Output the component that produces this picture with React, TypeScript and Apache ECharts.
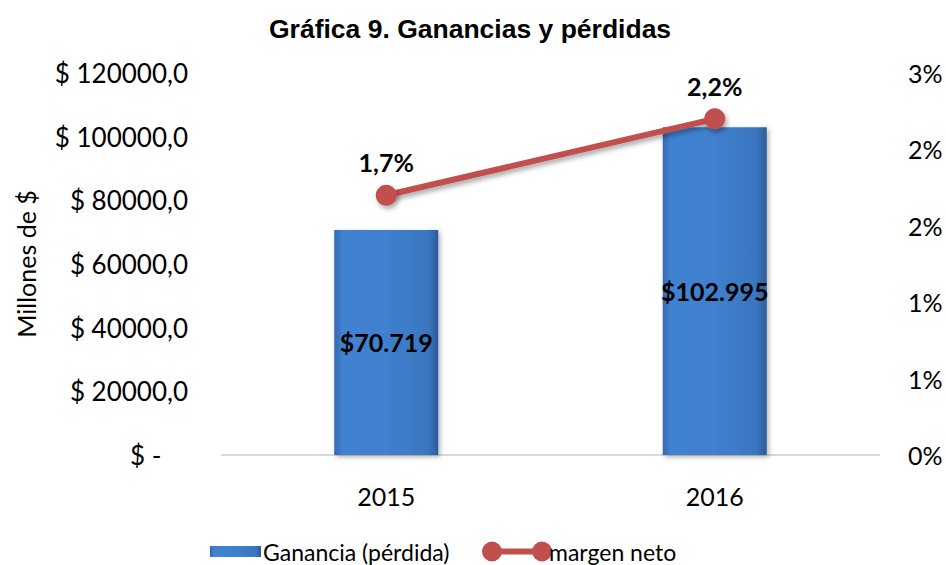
import React, { useEffect, useRef } from "react";
import * as echarts from "echarts";

const categories = ["2015", "2016"];
const ganancia = [70719, 102995];
const margenNeto = [1.7, 2.2];
const leftTicks = { min: 0, max: 120000, interval: 20000 };
const rightTicks = { min: 0, max: 2.5, interval: 0.5 };

const FONT = "Lato";

function fmtThousands(v: number): string {
  const s = Math.round(v).toString();
  return s.replace(/\B(?=(\d{3})+(?!\d))/g, ".");
}

export default function App() {
  const ref = useRef<HTMLDivElement>(null);
  useEffect(() => {
    if (!ref.current) return;
    const chart = echarts.init(ref.current, undefined, { renderer: "svg" });
    const lineIcon =
      "path://M0,10 A10,10 0 1,1 20,10 A10,10 0 1,1 0,10 Z M15,7 L55,7 L55,13 L15,13 Z M50,10 A10,10 0 1,1 70,10 A10,10 0 1,1 50,10 Z";
    chart.setOption({
      animation: false,
      backgroundColor: "#ffffff",
      title: {
        text: "Gráfica 9. Ganancias y pérdidas",
        left: 264,
        top: 10,
        textStyle: {
          fontFamily: "Liberation Sans",
          fontWeight: "bold",
          fontSize: 26.5,
          color: "#000000",
        },
      },
      grid: { left: 222, right: 67, top: 73, bottom: 110, containLabel: false },
      legend: [
        {
          data: [{ name: "Ganancia (pérdida)", icon: "rect" }],
          left: 205,
          top: 535,
          itemWidth: 51,
          itemHeight: 11,
          itemGap: 4,
          textStyle: { fontFamily: FONT, fontSize: 23, color: "#000000", padding: [0, 0, 0, -3] },
        },
        {
          data: [{ name: "margen neto", icon: lineIcon }],
          left: 477,
          top: 535,
          itemWidth: 70,
          itemHeight: 20,
          textStyle: { fontFamily: FONT, fontSize: 23, color: "#000000", padding: [0, 0, 0, -8] },
        },
      ],
      xAxis: {
        type: "category",
        data: categories,
        axisLine: { lineStyle: { color: "#d9d9d9", width: 2 } },
        axisTick: { show: false },
        axisLabel: { fontFamily: FONT, fontSize: 25, color: "#000000", margin: 28 },
      },
      yAxis: [
        {
          type: "value",
          min: leftTicks.min,
          max: leftTicks.max,
          interval: leftTicks.interval,
          name: "Millones de $",
          nameLocation: "middle",
          nameGap: 184,
          nameTextStyle: { fontFamily: FONT, fontSize: 25, color: "#000000" },
          splitLine: { show: false },
          axisLine: { show: false },
          axisTick: { show: false },
          axisLabel: {
            fontFamily: FONT,
            fontSize: 26,
            color: "#000000",
            margin: 34,
            formatter: (v: number) => (v === 0 ? "$ -    " : "$ " + v + ",0"),
          },
        },
        {
          type: "value",
          min: rightTicks.min,
          max: rightTicks.max,
          interval: rightTicks.interval,
          splitLine: { show: false },
          axisLine: { show: false },
          axisTick: { show: false },
          axisLabel: {
            fontFamily: FONT,
            fontSize: 25,
            color: "#000000",
            margin: 29,
            formatter: (v: number) => Math.round(v) + "%",
          },
        },
      ],
      series: [
        {
          name: "Ganancia (pérdida)",
          type: "bar",
          data: ganancia,
          barWidth: 104,
          yAxisIndex: 0,
          itemStyle: {
            color: new echarts.graphic.LinearGradient(0, 0, 1, 0, [
              { offset: 0, color: "#3468b0" },
              { offset: 0.08, color: "#4182d2" },
              { offset: 0.5, color: "#3f80ce" },
              { offset: 0.9, color: "#3a76c0" },
              { offset: 1, color: "#2b5b9a" },
            ]),
            shadowColor: "rgba(0,0,0,0.3)",
            shadowBlur: 5,
            shadowOffsetX: 2,
            shadowOffsetY: 2,
          },
          label: {
            show: true,
            position: "inside",
            fontFamily: FONT,
            fontWeight: "bold",
            fontSize: 25,
            color: "#000000",
            formatter: (p: any) => "$" + fmtThousands(p.value),
          },
          z: 2,
        },
        {
          name: "margen neto",
          type: "line",
          data: margenNeto,
          yAxisIndex: 1,
          symbol: "circle",
          symbolSize: 21,
          color: "#c0504d",
          lineStyle: {
            color: "#c0504d",
            width: 6,
            shadowColor: "rgba(0,0,0,0.35)",
            shadowBlur: 5,
            shadowOffsetX: 2,
            shadowOffsetY: 3,
          },
          itemStyle: {
            color: "#c0504d",
            shadowColor: "rgba(0,0,0,0.35)",
            shadowBlur: 5,
            shadowOffsetX: 2,
            shadowOffsetY: 3,
          },
          label: {
            show: true,
            position: "top",
            distance: 10,
            fontFamily: FONT,
            fontWeight: "bold",
            fontSize: 25,
            color: "#000000",
            formatter: (p: any) => p.value.toFixed(1).replace(".", ",") + "%",
          },
          z: 3,
        },
      ],
    });
    return () => chart.dispose();
  }, []);
  return (
    <div
      ref={ref}
      style={{ position: "fixed", left: 0, top: 0, width: 946, height: 565, background: "#fff" }}
    />
  );
}
